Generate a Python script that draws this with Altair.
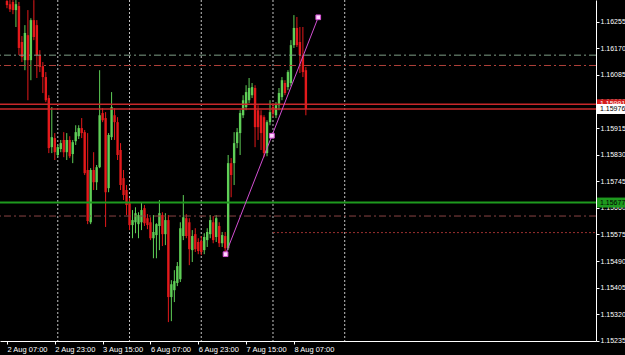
import altair as alt
import pandas as pd

# ---- candle data (H1 bars, index 0 = 2 Aug 07:00) ----
bar_index = list(range(0, 101))
opens = [1.16321, 1.16311, 1.16318, 1.16292, 1.16305, 1.16190, 1.16132, 1.16212, 1.16132, 1.16260,
         1.16244, 1.16148, 1.16113, 1.16078, 1.16011, 1.15854, 1.15883, 1.15829, 1.15848, 1.15877,
         1.15838, 1.15877, 1.15832, 1.15873, 1.15889, 1.15915, 1.15902, 1.15781, 1.15614, 1.15781,
         1.15742, 1.15790, 1.15963, 1.15947, 1.15723, 1.15886, 1.15956, 1.15934, 1.15845, 1.15755,
         1.15717, 1.15675, 1.15605, 1.15614, 1.15608, 1.15614, 1.15659, 1.15627, 1.15614, 1.15563,
         1.15573, 1.15602, 1.15637, 1.15576, 1.15621, 1.15375, 1.15397, 1.15420, 1.15432, 1.15570,
         1.15627, 1.15614, 1.15525, 1.15576, 1.15551, 1.15554, 1.15525, 1.15557, 1.15576, 1.15614,
         1.15567, 1.15602, 1.15547, 1.15570, 1.15531, 1.15803, 1.15803, 1.15867, 1.15899, 1.15956,
         1.15982, 1.16004, 1.16020, 1.16043, 1.15972, 1.15956, 1.15950, 1.15835, 1.15934, 1.15982,
         1.15956, 1.15988, 1.16014, 1.16059, 1.16046, 1.16059, 1.16180, 1.16235, 1.16190, 1.16148,
         1.16100]
highs = [1.16324, 1.16324, 1.16324, 1.16324, 1.16318, 1.16209, 1.16244, 1.16292, 1.16266, 1.16324,
         1.16260, 1.16164, 1.16126, 1.16094, 1.16020, 1.15982, 1.15899, 1.15861, 1.15877, 1.15902,
         1.15899, 1.15889, 1.15877, 1.15924, 1.15924, 1.15947, 1.15909, 1.15899, 1.15787, 1.15838,
         1.15797, 1.16100, 1.15979, 1.15966, 1.15899, 1.16030, 1.15979, 1.15950, 1.15867, 1.15781,
         1.15733, 1.15691, 1.15653, 1.15662, 1.15646, 1.15678, 1.15669, 1.15640, 1.15630, 1.15637,
         1.15611, 1.15685, 1.15646, 1.15643, 1.15637, 1.15429, 1.15461, 1.15487, 1.15614, 1.15701,
         1.15640, 1.15627, 1.15589, 1.15595, 1.15563, 1.15570, 1.15579, 1.15595, 1.15637, 1.15634,
         1.15637, 1.15614, 1.15583, 1.15583, 1.15829, 1.15819, 1.15902, 1.15915, 1.15972, 1.16020,
         1.16052, 1.16075, 1.16059, 1.16052, 1.15988, 1.15972, 1.15956, 1.15940, 1.16004, 1.15995,
         1.15998, 1.16043, 1.16078, 1.16068, 1.16100, 1.16196, 1.16276, 1.16270, 1.16238, 1.16238,
         1.16110]
lows = [1.16298, 1.16286, 1.16279, 1.16238, 1.16148, 1.16126, 1.16100, 1.16004, 1.16068, 1.16196,
        1.16075, 1.16094, 1.16027, 1.15998, 1.15835, 1.15835, 1.15813, 1.15822, 1.15838, 1.15822,
        1.15813, 1.15819, 1.15803, 1.15861, 1.15880, 1.15883, 1.15765, 1.15608, 1.15608, 1.15717,
        1.15717, 1.15787, 1.15934, 1.15599, 1.15710, 1.15877, 1.15877, 1.15813, 1.15717, 1.15685,
        1.15637, 1.15589, 1.15563, 1.15579, 1.15563, 1.15589, 1.15602, 1.15592, 1.15557, 1.15499,
        1.15499, 1.15525, 1.15538, 1.15541, 1.15295, 1.15298, 1.15359, 1.15410, 1.15423, 1.15557,
        1.15563, 1.15477, 1.15487, 1.15519, 1.15512, 1.15509, 1.15512, 1.15535, 1.15563, 1.15547,
        1.15551, 1.15535, 1.15535, 1.15515, 1.15525, 1.15694, 1.15733, 1.15851, 1.15829, 1.15947,
        1.15972, 1.15995, 1.16011, 1.15854, 1.15877, 1.15845, 1.15822, 1.15825, 1.15924, 1.15950,
        1.15947, 1.15972, 1.16004, 1.16020, 1.16036, 1.16049, 1.16171, 1.16174, 1.16091, 1.16078,
        1.15956]
closes = [1.16308, 1.16295, 1.16292, 1.16311, 1.16171, 1.16142, 1.16219, 1.16132, 1.16260, 1.16206,
          1.16148, 1.16110, 1.16078, 1.16004, 1.15851, 1.15886, 1.15838, 1.15854, 1.15867, 1.15838,
          1.15877, 1.15825, 1.15870, 1.15902, 1.15915, 1.15899, 1.15771, 1.15618, 1.15781, 1.15742,
          1.15790, 1.15956, 1.15940, 1.15710, 1.15893, 1.15982, 1.15934, 1.15829, 1.15733, 1.15701,
          1.15669, 1.15605, 1.15621, 1.15643, 1.15637, 1.15653, 1.15611, 1.15605, 1.15563, 1.15583,
          1.15608, 1.15643, 1.15576, 1.15621, 1.15375, 1.15416, 1.15426, 1.15474, 1.15595, 1.15630,
          1.15570, 1.15528, 1.15570, 1.15528, 1.15522, 1.15519, 1.15567, 1.15583, 1.15621, 1.15557,
          1.15627, 1.15547, 1.15573, 1.15531, 1.15803, 1.15765, 1.15867, 1.15902, 1.15963, 1.16004,
          1.16030, 1.16043, 1.16046, 1.15918, 1.15918, 1.15899, 1.15835, 1.15934, 1.15966, 1.15963,
          1.15988, 1.16027, 1.16068, 1.16027, 1.16094, 1.16180, 1.16235, 1.16180, 1.16148, 1.16094,
          1.15976]

# ---- axes ----
price_ticks = [1.15235, 1.15320, 1.15405, 1.15490, 1.15575, 1.15660, 1.15745,
               1.15830, 1.15915, 1.16000, 1.16085, 1.16170, 1.16255]
time_tick_index = [0, 16, 32, 48, 64, 80, 96]
time_tick_labels = ["2 Aug 07:00", "2 Aug 23:00", "3 Aug 15:00", "6 Aug 07:00",
                    "6 Aug 23:00", "7 Aug 15:00", "8 Aug 07:00"]
day_separator_index = [17, 41, 65, 89, 113]

# ---- horizontal levels ----
level_prices = [1.16148, 1.16115, 1.15991, 1.15976, 1.15677, 1.15634, 1.15581]
level_start_index = [None, None, None, None, None, None, 89]

# ---- trend line ----
trend_index = [73.13, 104.14]
trend_price = [1.15512, 1.16269]
handle_index = [73.13, 88.64, 104.14]
handle_price = [1.15512, 1.158905, 1.16269]

# ---- price labels on the right scale ----
tag_price = [1.15991, 1.15976, 1.15677]
tag_text = ["1.15991", "1.15976", "1.15677"]

UP = "#5fcf57"
DOWN = "#e3191b"
FONT = "Liberation Sans"
FS_X = 7.5
FS_Y = 7

W, H = 596, 341
xscale = alt.Scale(domain=[-0.658, 195.39], nice=False, zero=False)
yscale = alt.Scale(domain=[1.152346, 1.163243], nice=False, zero=False)

label_expr = "[" + ",".join("'%s'" % t for t in time_tick_labels) + "][datum.value / 16]"
x_axis = alt.Axis(
    values=time_tick_index, labelExpr=label_expr, orient="bottom", title=None,
    grid=False, domainColor="#ffffff", domainWidth=1, tickColor="#ffffff", tickSize=3,
    labelColor="#ffffff", labelFont=FONT, labelFontSize=FS_X, labelAlign="left",
    labelPadding=1, labelOverlap=False, labelFlush=False, labelBound=False)
y_axis = alt.Axis(
    values=price_ticks, format=".5f", orient="right", title=None, grid=False,
    domainColor="#ffffff", domainWidth=1, tickColor="#ffffff", tickSize=3,
    labelColor="#ffffff", labelFont=FONT, labelFontSize=FS_Y, labelAlign="left",
    labelPadding=1, labelOverlap=False, labelFlush=False, labelBound=False)


def X(field):
    return alt.X(field, scale=xscale, axis=x_axis)


def Y(field):
    return alt.Y(field, scale=yscale, axis=y_axis)


candles = pd.DataFrame({"i": bar_index, "open": opens, "high": highs,
                        "low": lows, "close": closes})
candles["dir"] = ["up" if c >= o else "down" for o, c in zip(opens, closes)]
color = alt.Color("dir:N", scale=alt.Scale(domain=["up", "down"], range=[UP, DOWN]), legend=None)

base = alt.Chart(candles)
wicks = base.mark_rule(strokeWidth=1, clip=True).encode(
    x=X("i:Q"), y=Y("low:Q"), y2="high:Q", color=color)
bodies = base.mark_bar(size=2.4, clip=True).encode(
    x=X("i:Q"), y=Y("open:Q"), y2="close:Q", color=color)

seps = alt.Chart(pd.DataFrame({"i": day_separator_index})).mark_rule(
    color="#c4c4c4", strokeWidth=1, strokeDash=[2, 2]).encode(x=X("i:Q"))

lvl = pd.DataFrame({"price": level_prices, "start": level_start_index})
level_styles = [
    dict(color="#7f9f86", strokeWidth=1, strokeDash=[7, 3, 2, 3]),
    dict(color="#b0403a", strokeWidth=1, strokeDash=[7, 3, 2, 3]),
    dict(color="#c8282a", strokeWidth=1.6),
    dict(color="#c8282a", strokeWidth=1.6),
    dict(color="#1e9a1e", strokeWidth=2),
    dict(color="#8a4444", strokeWidth=1, strokeDash=[7, 3, 2, 3]),
    dict(color="#9a3030", strokeWidth=1, strokeDash=[2, 2]),
]
level_layers = []
for k, st in enumerate(level_styles):
    row = lvl.iloc[[k]]
    ch = alt.Chart(row).mark_rule(**st)
    if pd.notna(row["start"].iloc[0]):
        ch = ch.encode(y=Y("price:Q"), x=X("start:Q"), x2=alt.value(W))
    else:
        ch = ch.encode(y=Y("price:Q"))
    level_layers.append(ch)

trend = alt.Chart(pd.DataFrame({"i": trend_index, "p": trend_price})).mark_line(
    color="#d24fd2", strokeWidth=1).encode(x=X("i:Q"), y=Y("p:Q"))
handles = alt.Chart(pd.DataFrame({"i": handle_index, "p": handle_price})).mark_square(
    size=22, filled=True, color="#ffd6ff", stroke="#d24fd2", strokeWidth=1, opacity=1).encode(
    x=X("i:Q"), y=Y("p:Q"))

tags = pd.DataFrame({"price": tag_price, "text": tag_text,
                     "bg": ["#d41c1c", "#ffffff", "#1e9a1e"],
                     "fg": ["#ffffff", "#000000", "#000000"]})
tag_layers = []
for k in range(len(tag_price)):
    row = tags.iloc[[k]]
    box = alt.Chart(row).mark_rule(strokeWidth=10, strokeCap="butt").encode(
        y=Y("price:Q"), x=alt.value(597), x2=alt.value(625),
        color=alt.Color("bg:N", scale=None))
    txt = alt.Chart(row).mark_text(align="left", baseline="middle", font=FONT,
                                   fontSize=FS_Y).encode(
        y=Y("price:Q"), x=alt.value(600), text="text:N",
        color=alt.Color("fg:N", scale=None))
    tag_layers += [box, txt]

chart = alt.layer(seps, wicks, bodies, *level_layers, trend, handles, *tag_layers).properties(
    width=W, height=H, background="#000000",
    padding={"left": 0, "top": 0, "right": 29, "bottom": 14},
    autosize=alt.AutoSizeParams(type="none"),
).configure_view(stroke=None)

chart.save("out.html", embed_options={"renderer": "svg", "actions": False})
